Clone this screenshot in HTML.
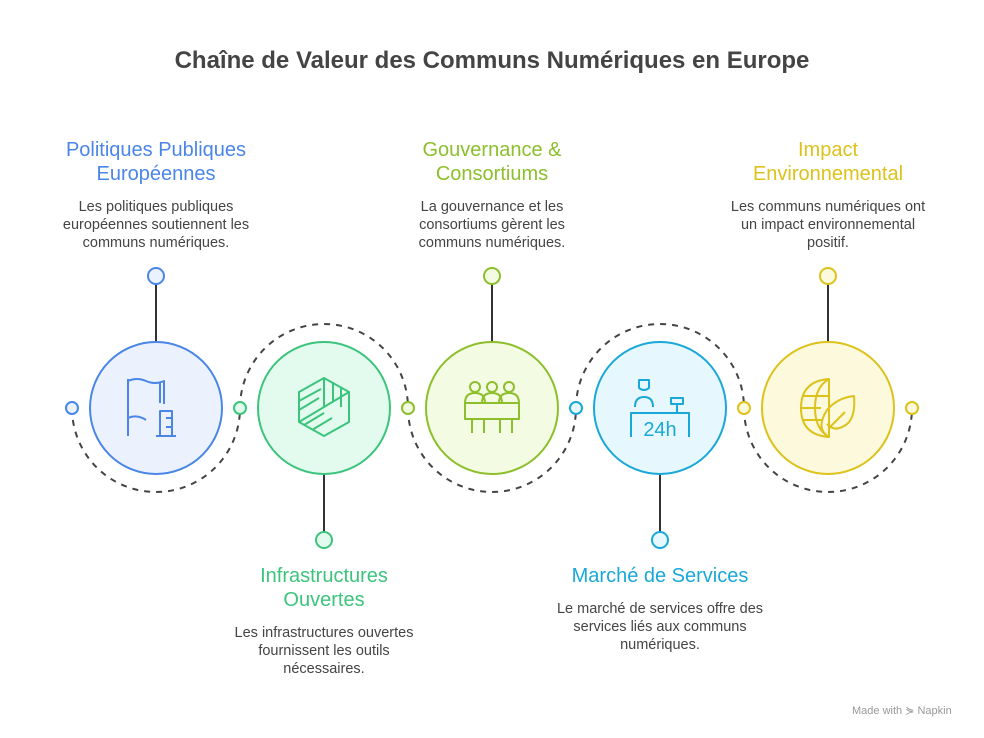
<!DOCTYPE html>
<html><head><meta charset="utf-8"><style>
body{margin:0;width:984px;height:738px;background:#fff;font-family:"Liberation Sans",sans-serif;position:relative;overflow:hidden}
.t{position:absolute;text-align:center}
.h{font-size:20px;line-height:24px}
.d{font-size:14.5px;line-height:18px;color:#444}
</style></head><body>
<div class="t" style="left:0;width:984px;top:47px;font-size:24px;font-weight:bold;color:#444">Chaîne de Valeur des Communs Numériques en Europe</div>

<div class="t h" style="left:36px;width:240px;top:138px;color:#4a86e8">Politiques Publiques<br>Européennes</div>
<div class="t d" style="left:51px;width:210px;top:198px">Les politiques publiques européennes soutiennent les communs numériques.</div>

<div class="t h" style="left:372px;width:240px;top:138px;color:#8cbf2b">Gouvernance &amp;<br>Consortiums</div>
<div class="t d" style="left:397px;width:190px;top:198px">La gouvernance et les consortiums gèrent les communs numériques.</div>

<div class="t h" style="left:708px;width:240px;top:138px;color:#dcc21a">Impact<br>Environnemental</div>
<div class="t d" style="left:723px;width:210px;top:198px">Les communs numériques ont un impact environnemental positif.</div>

<div class="t h" style="left:204px;width:240px;top:564px;color:#3cc47c">Infrastructures<br>Ouvertes</div>
<div class="t d" style="left:224px;width:200px;top:624px">Les infrastructures ouvertes fournissent les outils nécessaires.</div>

<div class="t h" style="left:540px;width:240px;top:564px;color:#1aa8d8">Marché de Services</div>
<div class="t d" style="left:545px;width:230px;top:600px">Le marché de services offre des services liés aux communs numériques.</div>

<div class="t" style="left:852px;top:704px;font-size:11px;color:#999">Made with ⋟ Napkin</div>

<svg width="984" height="738" style="position:absolute;left:0;top:0">
<g fill="none" stroke="#444" stroke-width="2" stroke-dasharray="6,6">
<path d="M72 408 A84 84 0 0 0 240 408"/>
<path d="M240 408 A84 84 0 0 1 408 408"/>
<path d="M408 408 A84 84 0 0 0 576 408"/>
<path d="M576 408 A84 84 0 0 1 744 408"/>
<path d="M744 408 A84 84 0 0 0 912 408"/>
</g>
<g stroke="#333" stroke-width="2">
<line x1="156" y1="284" x2="156" y2="342"/>
<line x1="492" y1="284" x2="492" y2="342"/>
<line x1="828" y1="284" x2="828" y2="342"/>
<line x1="324" y1="474" x2="324" y2="532"/>
<line x1="660" y1="474" x2="660" y2="532"/>
</g>
<g stroke-width="2">
<circle cx="156" cy="408" r="66" fill="#ebf2fd" stroke="#4a86e8"/>
<circle cx="324" cy="408" r="66" fill="#e3fbef" stroke="#3cc47c"/>
<circle cx="492" cy="408" r="66" fill="#f3fce2" stroke="#8cbf2b"/>
<circle cx="660" cy="408" r="66" fill="#e6f7fd" stroke="#1aa8d8"/>
<circle cx="828" cy="408" r="66" fill="#fdf9dc" stroke="#dcc21a"/>
<circle cx="156" cy="276" r="8" fill="#ebf2fd" stroke="#4a86e8"/>
<circle cx="492" cy="276" r="8" fill="#f3fce2" stroke="#8cbf2b"/>
<circle cx="828" cy="276" r="8" fill="#fdf9dc" stroke="#dcc21a"/>
<circle cx="324" cy="540" r="8" fill="#e3fbef" stroke="#3cc47c"/>
<circle cx="660" cy="540" r="8" fill="#e6f7fd" stroke="#1aa8d8"/>
<circle cx="72" cy="408" r="6" fill="#ebf2fd" stroke="#4a86e8"/>
<circle cx="240" cy="408" r="6" fill="#e3fbef" stroke="#3cc47c"/>
<circle cx="408" cy="408" r="6" fill="#f3fce2" stroke="#8cbf2b"/>
<circle cx="576" cy="408" r="6" fill="#e6f7fd" stroke="#1aa8d8"/>
<circle cx="744" cy="408" r="6" fill="#fdf9dc" stroke="#dcc21a"/>
<circle cx="912" cy="408" r="6" fill="#fdf9dc" stroke="#dcc21a"/>
</g>
<g fill="none" stroke-width="2" stroke-linejoin="round">
<g stroke="#4a86e8"><path d="M128 436V379M128 381q9-4 18 0t18 0v23M160 383v20M128 418q9-4 18 2M160 436V411h12v25M156 436h20M166 418h6M166 427h6"/></g>
<g stroke="#3cc47c"><path d="M324 378l25 14v30l-25 14-25-14v-30zM324 378v29l25-15M324 407l-25 15M299 392l25 -14M299 401l22-12M299 410l20-12M304 425l20-12M312 430l20-12M333 382v20M341 387v20"/></g>
<g stroke="#8cbf2b"><circle cx="475" cy="387" r="5"/><circle cx="492" cy="387" r="5"/><circle cx="509" cy="387" r="5"/><path d="M465 403q0-10 10-10 10 0 10 10M482 403q0-10 10-10 10 0 10 10M499 403q0-10 10-10 10 0 10 10M465 403h54v16h-54zM472 419v14M484 419v14M500 419v14M512 419v14"/></g>
<g stroke="#1aa8d8"><path d="M639 380h10v8q-5 4-10 0zM635 407q0-10 9-10 9 0 9 10M631 437v-24h58v24M671 398h12v6h-12zM677 404v8"/></g>
<g stroke="#dcc21a"><path d="M829 379q-28 2-28 29t28 29zM829 379q-14 8-14 29t14 29M803 396h26M801 408h20M803 420h20M829 437q-14-8-2-27q10-12 27-14q2 24-10 30q-10 6-17-2M829 428l16-16"/></g>
</g>
<text x="660" y="436" font-family="Liberation Sans" font-size="20" fill="#1aa8d8" text-anchor="middle">24h</text>
</svg>
</body></html>
